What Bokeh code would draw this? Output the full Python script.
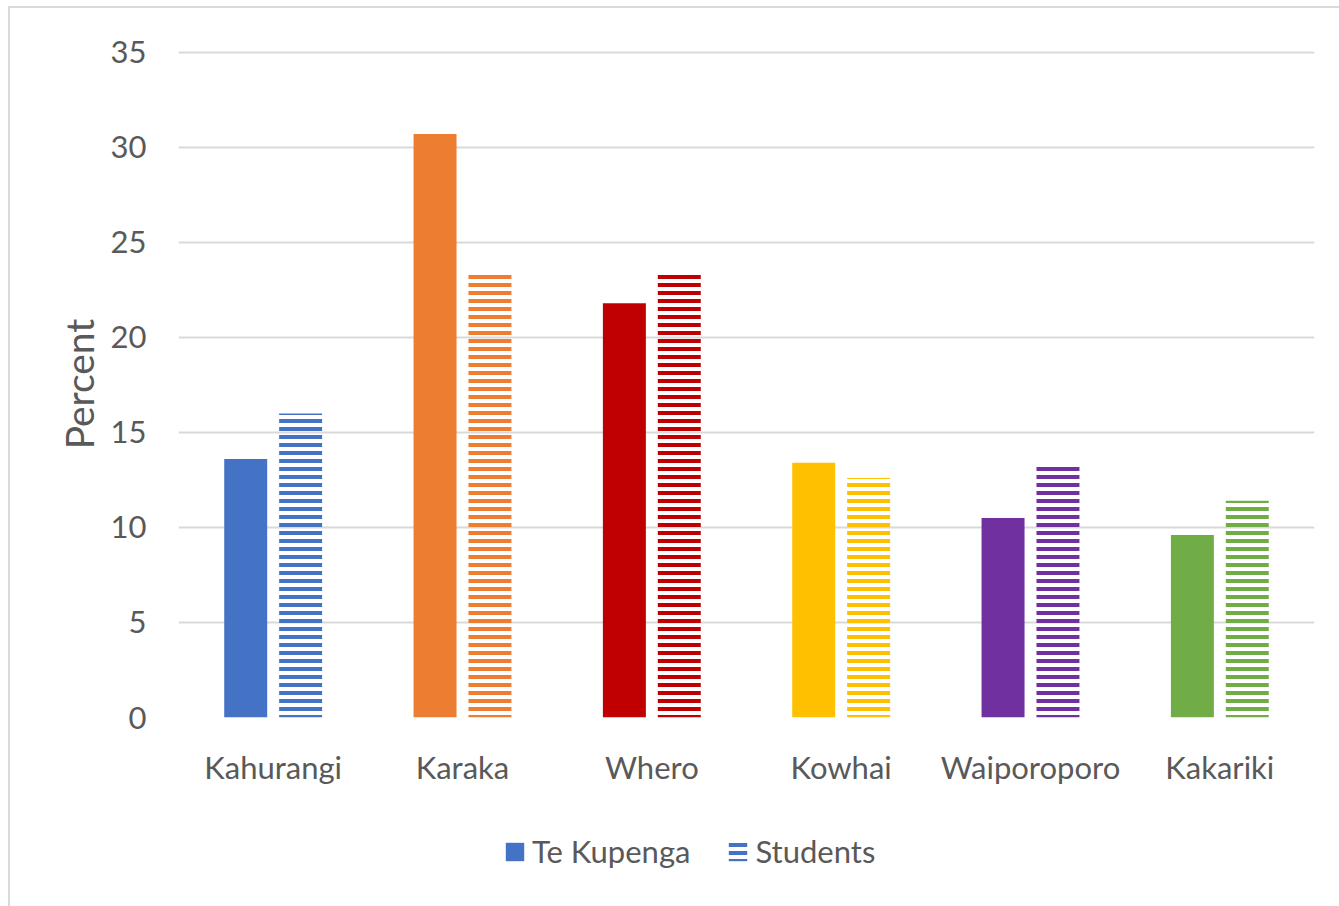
from bokeh.plotting import figure
from bokeh.models import ColumnDataSource, FactorRange, Legend, LegendItem, SingleIntervalTicker, Range1d
from bokeh.layouts import column
from bokeh.transform import dodge
from bokeh.embed import file_html
from bokeh.resources import INLINE

categories = ["Kahurangi", "Karaka", "Whero", "Kowhai", "Waiporoporo", "Kakariki"]
te_kupenga = [13.6, 30.7, 21.8, 13.4, 10.5, 9.6]
students = [16.0, 23.3, 23.4, 12.6, 13.3, 11.4]
colors = ["#4472C4", "#ED7D31", "#C00000", "#FFC000", "#7030A0", "#70AD47"]
series_names = ["Te Kupenga", "Students"]

FONT = "Lato"
TXT = "#595959"

src = ColumnDataSource(dict(cat=categories, tk=te_kupenga, st=students, color=colors))

TK_STYLE = dict(width=0.227, fill_color="color", line_color=None)
ST_STYLE = dict(width=0.227, fill_alpha=0, line_color=None, hatch_pattern="horizontal_line",
                hatch_color="color", hatch_scale=8, hatch_weight=4)

p = figure(x_range=FactorRange(factors=categories, range_padding=0, factor_padding=0),
           y_range=(0, 35.1), width=1329, height=792, frame_width=1136, frame_height=667,
           output_backend="svg", toolbar_location=None,
           min_border_left=168, min_border_right=25, min_border_top=42, min_border_bottom=83)

p.vbar(x=dodge("cat", -0.145, range=p.x_range), top="tk", source=src, **TK_STYLE)
p.vbar(x=dodge("cat", 0.145, range=p.x_range), top="st", source=src, **ST_STYLE)

p.outline_line_color = None
p.xgrid.grid_line_color = None
p.ygrid.grid_line_color = "#d9d9d9"
p.ygrid.grid_line_width = 2
p.yaxis.ticker = SingleIntervalTicker(interval=5)

for ax in (p.xaxis, p.yaxis):
    ax.axis_line_color = None
    ax.major_tick_line_color = None
    ax.minor_tick_line_color = None
    ax.major_label_text_font = FONT
    ax.major_label_text_font_size = "31px"
    ax.major_label_text_color = TXT

p.xaxis.major_label_standoff = 24
p.yaxis.major_label_standoff = 26
p.yaxis.axis_label = "Percent"
p.yaxis.axis_label_text_font = FONT
p.yaxis.axis_label_text_font_size = "39px"
p.yaxis.axis_label_text_font_style = "normal"
p.yaxis.axis_label_text_color = TXT
p.yaxis.axis_label_standoff = 6

# legend strip below the chart (its renderers sit outside its visible range)
q = figure(x_range=p.x_range, y_range=Range1d(100, 200), width=1329, height=106,
           output_backend="svg", toolbar_location=None,
           x_axis_location=None, y_axis_location=None,
           min_border_left=0, min_border_right=0, min_border_top=0, min_border_bottom=0)
q.grid.visible = False
q.outline_line_color = None
l1 = q.vbar(x=dodge("cat", -0.145, range=q.x_range), top="tk", source=src, **TK_STYLE)
l2 = q.vbar(x=dodge("cat", 0.145, range=q.x_range), top="st", source=src, **ST_STYLE)

legend = Legend(items=[LegendItem(label=series_names[0], renderers=[l1], index=0),
                       LegendItem(label=series_names[1], renderers=[l2], index=0)],
                orientation="horizontal", location=(325, 36),
                glyph_width=23, glyph_height=23, label_standoff=6, spacing=36,
                padding=0, margin=0, border_line_color=None, background_fill_alpha=0,
                label_text_font=FONT, label_text_font_size="31px", label_text_color=TXT)
q.add_layout(legend, "center")

layout = column(p, q, spacing=0)
layout.styles = {"margin-left": "8px", "margin-top": "6px",
                 "border-left": "2px solid #d9d9d9", "border-top": "2px solid #d9d9d9"}

open("out.html", "w").write(file_html(layout, INLINE))
